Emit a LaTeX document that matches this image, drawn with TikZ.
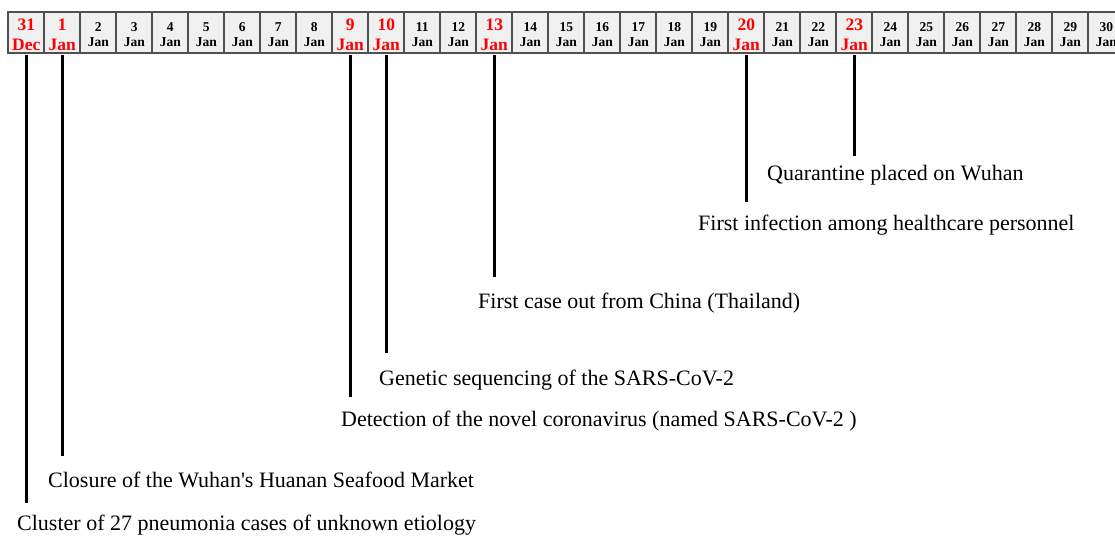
\documentclass[tikz,border=0pt]{standalone}
\usepackage{fontspec}
\setmainfont{Liberation Serif}
\usetikzlibrary{positioning}
\definecolor{cellfill}{HTML}{F0F0F0}
\definecolor{cellline}{HTML}{505050}
\definecolor{datered}{HTML}{FF0000}
\tikzset{
  day/.style={draw=cellline, line width=1.8pt, fill=cellfill, minimum width=36pt, minimum height=40.4pt,
    inner sep=0pt, outer sep=0pt, align=center, anchor=north west, font=\fontsize{13.5}{15.5}\selectfont\bfseries,
    text height=28.5pt, text depth=0pt},
  hot/.style={text=datered, font=\fontsize{17.5}{20.7}\selectfont\bfseries, text height=36.5pt},
  event/.style={anchor=base west, inner sep=0pt, text height=15pt, text depth=4pt, font=\fontsize{22}{24}\selectfont},
  stem/.style={line width=2.8pt, shorten <=2.5pt}
}
\begin{document}
\begin{tikzpicture}[x=1pt, y=1pt]
        \useasboundingbox (0,0) rectangle (1115,-535);
        \clip (0,0) rectangle (1115,-535);

        % the day strip
        \node[day, hot] (dec31) at (8.3,-12.3) {31\\Dec};
        \node[day, hot, right=0pt of dec31] (jan1) {1\\Jan};
        \node[day, right=0pt of jan1] (jan2) {2\\Jan};
        \node[day, right=0pt of jan2] (jan3) {3\\Jan};
        \node[day, right=0pt of jan3] (jan4) {4\\Jan};
        \node[day, right=0pt of jan4] (jan5) {5\\Jan};
        \node[day, right=0pt of jan5] (jan6) {6\\Jan};
        \node[day, right=0pt of jan6] (jan7) {7\\Jan};
        \node[day, right=0pt of jan7] (jan8) {8\\Jan};
        \node[day, hot, right=0pt of jan8] (jan9) {9\\Jan};
        \node[day, hot, right=0pt of jan9] (jan10) {10\\Jan};
        \node[day, right=0pt of jan10] (jan11) {11\\Jan};
        \node[day, right=0pt of jan11] (jan12) {12\\Jan};
        \node[day, hot, right=0pt of jan12] (jan13) {13\\Jan};
        \node[day, right=0pt of jan13] (jan14) {14\\Jan};
        \node[day, right=0pt of jan14] (jan15) {15\\Jan};
        \node[day, right=0pt of jan15] (jan16) {16\\Jan};
        \node[day, right=0pt of jan16] (jan17) {17\\Jan};
        \node[day, right=0pt of jan17] (jan18) {18\\Jan};
        \node[day, right=0pt of jan18] (jan19) {19\\Jan};
        \node[day, hot, right=0pt of jan19] (jan20) {20\\Jan};
        \node[day, right=0pt of jan20] (jan21) {21\\Jan};
        \node[day, right=0pt of jan21] (jan22) {22\\Jan};
        \node[day, hot, right=0pt of jan22] (jan23) {23\\Jan};
        \node[day, right=0pt of jan23] (jan24) {24\\Jan};
        \node[day, right=0pt of jan24] (jan25) {25\\Jan};
        \node[day, right=0pt of jan25] (jan26) {26\\Jan};
        \node[day, right=0pt of jan26] (jan27) {27\\Jan};
        \node[day, right=0pt of jan27] (jan28) {28\\Jan};
        \node[day, right=0pt of jan28] (jan29) {29\\Jan};
        \node[day, right=0pt of jan29] (jan30) {30\\Jan};

        % events
        \node[event] (cluster) at (17,-530.7) {Cluster of 27 pneumonia cases of unknown etiology};
        \node[event] (closure) at (48,-487.3) {Closure of the Wuhan\textquotesingle s Huanan Seafood Market};
        \node[event] (detect) at (341,-426.7) {Detection of the novel coronavirus (named SARS-CoV-2 )};
        \node[event] (genome) at (379,-385) {Genetic sequencing of the SARS-CoV-2};
        \node[event] (abroad) at (478,-308.3) {First case out from China (Thailand)};
        \node[event] (staff) at (698,-230) {First infection among healthcare personnel};
        \node[event] (lockdown) at (767,-180) {Quarantine placed on Wuhan};

        \draw[stem, shorten >=13pt] (dec31.south) -- (dec31.south |- cluster.north);
        \draw[stem, shorten >=16pt] (jan1.south) -- (jan1.south |- closure.north);
        \draw[stem, shorten >=15pt] (jan9.south) -- (jan9.south |- detect.north);
        \draw[stem, shorten >=17pt] (jan10.south) -- (jan10.south |- genome.north);
        \draw[stem, shorten >=16pt] (jan13.south) -- (jan13.south |- abroad.north);
        \draw[stem, shorten >=13pt] (jan20.south) -- (jan20.south |- staff.north);
        \draw[stem, shorten >=9pt] (jan23.south) -- (jan23.south |- lockdown.north);
    \end{tikzpicture}
\end{document}
